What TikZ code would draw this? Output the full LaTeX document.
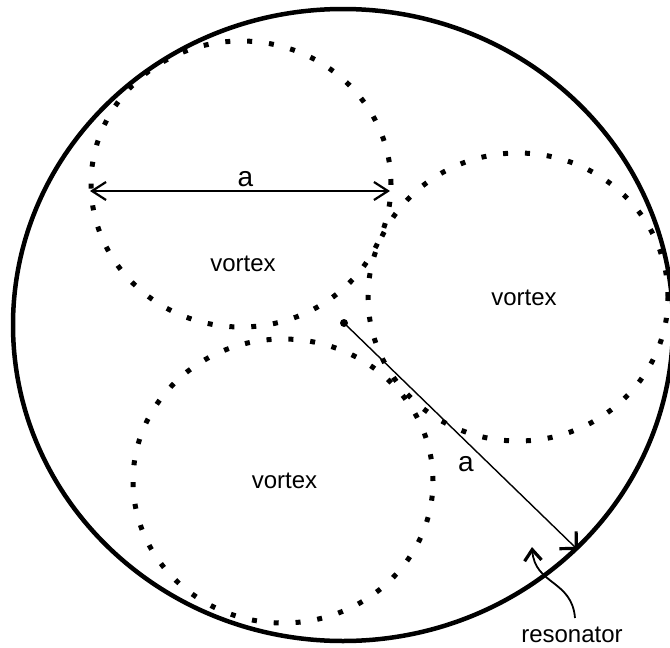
\documentclass[tikz,border=0pt]{standalone}
\usepackage{fontspec}
\setmainfont{Liberation Sans}
\usetikzlibrary{arrows.meta}
\begin{document}
\begin{tikzpicture}[x=1pt,y=-1pt,
  resline/.style={line width=4.5pt},
  vortexline/.style={line width=5pt, line cap=butt, dash pattern=on 5pt off 16.9pt},
  lbl/.style={anchor=base, inner sep=0pt, font=\fontsize{24}{28}\selectfont},
  albl/.style={anchor=base, inner sep=0pt, font=\fontsize{28}{32}\selectfont},
  dimarrow/.style={line width=1.8pt,
    {Straight Barb[length=14pt,width=18pt,line width=2.2pt]}-{Straight Barb[length=14pt,width=18pt,line width=2.2pt]}},
  radarrow/.style={line width=1.4pt,
    -{Straight Barb[length=12pt,width=24pt,line width=3.2pt]}},
  pointer/.style={line width=1.8pt,
    -{Straight Barb[length=11pt,width=17pt,line width=3.2pt]}}
]
\useasboundingbox (0,0) rectangle (670,648);

% resonator
\coordinate (res) at (343,325);
\draw[resline] (res) ellipse [x radius=330pt, y radius=316pt];

% vortices
\coordinate (v1) at (241,184);
\coordinate (v2) at (518,297);
\coordinate (v3) at (283,481);
\draw[vortexline] (v1) ellipse [x radius=150pt, y radius=143pt];
\draw[vortexline] (v2) ellipse [x radius=150pt, y radius=144pt];
\draw[vortexline] (v3) ellipse [x radius=150pt, y radius=142pt];

% labels
\node[lbl] (t1) at (243,271.5) {vortex};
\node[lbl] (t2) at (524,305) {vortex};
\node[lbl] (t3) at (284.5,488) {vortex};
\node[lbl] (tres) at (572,642) {resonator};
\node[albl] (adiam) at (245.5,186) {a};
\node[albl] (arad) at (466,471) {a};

% diameter arrow
\coordinate (dl) at (90,191);
\coordinate (dr) at (390,191);
\draw[dimarrow] (dl) -- (dr);

% radius arrow
\coordinate (c0) at (344,323);
\coordinate (rtip) at (578,550);
\fill (c0) circle [radius=4pt];
\draw[radarrow] (c0) -- (rtip);

% resonator pointer
\coordinate (ps) at (575,618);
\coordinate (pt) at (532,547);
\draw[pointer] (ps) .. controls (572,580) and (535,585) .. (pt);
\end{tikzpicture}
\end{document}
